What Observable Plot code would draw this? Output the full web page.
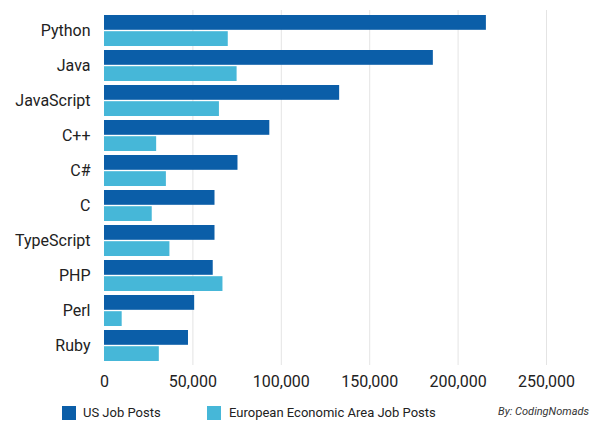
<!DOCTYPE html>
<html><head><meta charset="utf-8">
<script src="https://cdn.jsdelivr.net/npm/d3@7"></script>
<script src="https://cdn.jsdelivr.net/npm/@observablehq/plot@0.6"></script>
<style>
body{margin:0;background:#fff;font-family:Roboto,sans-serif;}
#wrap{position:relative;width:593px;height:421px;overflow:hidden;}
#chart svg{display:block;}
#chart svg text{font-family:Roboto,sans-serif;font-size:16px;fill:#222;}
.sw{position:absolute;top:406px;width:14px;height:14px;}
.lt{position:absolute;top:405px;height:16px;line-height:16px;font-size:13px;color:#222;white-space:nowrap;}
.by{position:absolute;top:404px;right:4px;height:16px;line-height:16px;font-size:11px;font-style:italic;color:#333;white-space:nowrap;}
</style></head><body>
<div id="wrap"><div id="chart"></div></div>
<script>
const languages = ["Python","Java","JavaScript","C++","C#","C","TypeScript","PHP","Perl","Ruby"];
const usPosts = [216000,186000,133000,93500,75500,62500,62500,61500,51000,47500];
const eeaPosts = [70000,75000,65000,29500,35000,27000,37000,67000,10000,31000];
const seriesNames = ["US Job Posts","European Economic Area Job Posts"];
const seriesColors = ["#0b5ea8","#46b7d8"];
const xTicks = [0,50000,100000,150000,200000,250000];
const byline = "By: CodingNomads";

const usRows = languages.map((l,i)=>({language:l, series:seriesNames[0], value:usPosts[i]}));
const eeaRows = languages.map((l,i)=>({language:l, series:seriesNames[1], value:eeaPosts[i]}));

const chart = Plot.plot({
  width:593, height:400,
  marginLeft:104, marginRight:47, marginTop:10, marginBottom:35,
  style:{fontFamily:"Roboto, sans-serif", fontSize:"16px", background:"transparent", color:"#222"},
  x:{domain:[0,250000], ticks:xTicks, tickFormat:d3.format(","), tickSize:0, tickPadding:10, label:null},
  y:{domain:languages, padding:0.12, tickSize:0, tickPadding:14, label:null},
  color:{domain:seriesNames, range:seriesColors},
  marks:[
    Plot.ruleX(xTicks.slice(1), {stroke:"#e4e4e4", strokeWidth:1}),
    Plot.barX(usRows, {y:"language", x:"value", fill:"series", insetBottom:16.2}),
    Plot.barX(eeaRows, {y:"language", x:"value", fill:"series", insetTop:16.2})
  ]
});
document.getElementById("chart").appendChild(chart);

const wrap = document.getElementById("wrap");
const legendPos = [{sw:62, tx:83},{sw:207, tx:229}];
seriesNames.forEach((name,i)=>{
  const s = document.createElement("div");
  s.className = "sw"; s.style.left = legendPos[i].sw + "px"; s.style.background = seriesColors[i];
  wrap.appendChild(s);
  const t = document.createElement("div");
  t.className = "lt"; t.style.left = legendPos[i].tx + "px"; t.textContent = name;
  wrap.appendChild(t);
});
const b = document.createElement("div");
b.className = "by"; b.textContent = byline;
wrap.appendChild(b);
</script>
</body></html>
